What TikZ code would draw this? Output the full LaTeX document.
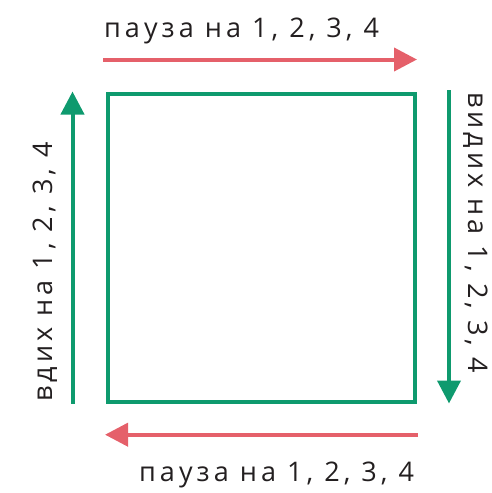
\documentclass[tikz,border=0pt]{standalone}
\usepackage{fontspec}
\setmainfont{Open Sans}[LetterSpace=15]
\usetikzlibrary{arrows.meta}
\definecolor{myred}{HTML}{E5606A}
\definecolor{mygreen}{HTML}{0E9A6E}
\definecolor{mytext}{HTML}{231F20}
\tikzset{
  redarrow/.style={draw=myred, line width=4pt, -{Triangle[length=23pt,width=23pt]}},
  greenarrow/.style={draw=mygreen, line width=4pt, -{Triangle[length=23pt,width=23pt]}},
  boxstyle/.style={draw=mygreen, line width=4pt},
  lbl/.style={text=mytext, font=\fontsize{27}{30}\selectfont, inner sep=0pt}
}
\begin{document}
\begin{tikzpicture}[x=1pt,y=-1pt]
\useasboundingbox (0,0) rectangle (492,493);
\draw[boxstyle] (107.5,94) rectangle (414.5,402);
% arrow endpoints
\coordinate (ts) at (103,59.5);
\coordinate (te) at (417,59.5);
\coordinate (bs) at (418,434.7);
\coordinate (be) at (105,434.7);
\coordinate (ls) at (72.5,403.5);
\coordinate (le) at (72.5,91.5);
\coordinate (rs) at (449,90);
\coordinate (re) at (449,403.5);
\draw[redarrow] (ts) -- (te);
\draw[redarrow] (bs) -- (be);
\draw[greenarrow] (ls) -- (le);
\draw[greenarrow] (rs) -- (re);
\node[lbl, anchor=base west] (tt) at (104,37.3) {пауза на 1, 2, 3, 4};
\node[lbl, anchor=base west] (bt) at (139,481.7) {пауза на 1, 2, 3, 4};
\node[lbl, anchor=base west, rotate=90] (lt) at (52,402) {вдих на 1, 2, 3, 4};
\node[lbl, anchor=base west, rotate=-90] (rt) at (468,92) {видих на 1, 2, 3, 4};
\end{tikzpicture}
\end{document}
